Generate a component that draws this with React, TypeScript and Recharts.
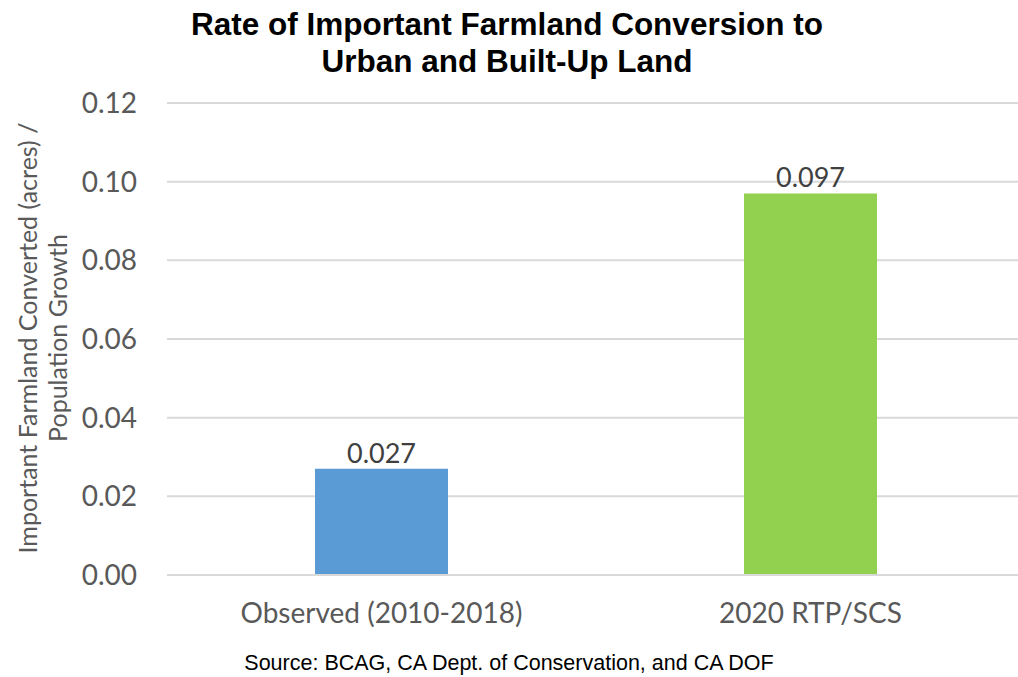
import React from 'react';
import { BarChart, Bar, XAxis, YAxis, CartesianGrid, Cell, LabelList } from 'recharts';

const categories = ['Observed (2010-2018)', '2020 RTP/SCS'];
const rates = [0.027, 0.097];
const barColors = ['#5B9BD5', '#92D050'];
const yTicks = [0, 0.02, 0.04, 0.06, 0.08, 0.1, 0.12];

const data = categories.map((name, i) => ({ name, value: rates[i] }));

const FONT = "Lato, 'Open Sans', sans-serif";

const AxisTitle = () => (
    <text
        transform="translate(42, 338) rotate(-90)"
        textAnchor="middle"
        fill="#595959"
        fontSize={25}
        fontFamily={FONT}
    >
        <tspan x={0} dy={-5}>Important Farmland Converted (acres) /</tspan>
        <tspan x={0} dy={30}>Population Growth</tspan>
    </text>
);

export default function App() {
    return (
        <div
            style={{
                position: 'absolute',
                top: 0,
                left: 0,
                width: 1018,
                height: 677,
                overflow: 'hidden',
                background: '#fff',
            }}
        >
            <div
                style={{
                    position: 'absolute',
                    top: 6,
                    left: 0,
                    width: 1018,
                    textAlign: 'center',
                    fontFamily: "'Liberation Sans', Arial, sans-serif",
                    fontWeight: 'bold',
                    fontSize: 31.5,
                    lineHeight: '37px',
                    color: '#000',
                    paddingRight: 4,
                    boxSizing: 'border-box',
                }}
            >
                Rate of Important Farmland Conversion to
                <br />
                Urban and Built-Up Land
            </div>
            <BarChart
                width={1030}
                height={677}
                data={data}
                margin={{ top: 103, right: 5, bottom: 72, left: 0 }}
            >
                <CartesianGrid vertical={false} stroke="#d9d9d9" strokeWidth={2} />
                <XAxis
                    dataKey="name"
                    axisLine={{ stroke: '#d9d9d9', strokeWidth: 2 }}
                    tickLine={false}
                    tick={{ fill: '#595959', fontSize: 28, fontFamily: FONT }}
                    tickMargin={22}
                />
                <YAxis
                    width={167}
                    domain={[0, 0.12]}
                    ticks={yTicks}
                    interval={0}
                    axisLine={false}
                    tickLine={false}
                    tickMargin={24}
                    tickFormatter={(v: number) => v.toFixed(2)}
                    tick={{ fill: '#595959', fontSize: 28, fontFamily: FONT }}
                    label={<AxisTitle />}
                />
                <Bar dataKey="value" barSize={133} isAnimationActive={false}>
                    {data.map((_entry, index) => (
                        <Cell key={`cell-${index}`} fill={barColors[index]} />
                    ))}
                    <LabelList
                        dataKey="value"
                        position="top"
                        offset={6}
                        fill="#404040"
                        fontSize={27}
                        fontFamily={FONT}
                        formatter={(v: number) => v.toFixed(3)}
                    />
                </Bar>
            </BarChart>
            <div
                style={{
                    position: 'absolute',
                    top: 651,
                    left: 0,
                    width: 1018,
                    textAlign: 'center',
                    fontFamily: "'Liberation Sans', Arial, sans-serif",
                    fontSize: 21.5,
                    color: '#000',
                }}
            >
                Source: BCAG, CA Dept. of Conservation, and CA DOF
            </div>
        </div>
    );
}
